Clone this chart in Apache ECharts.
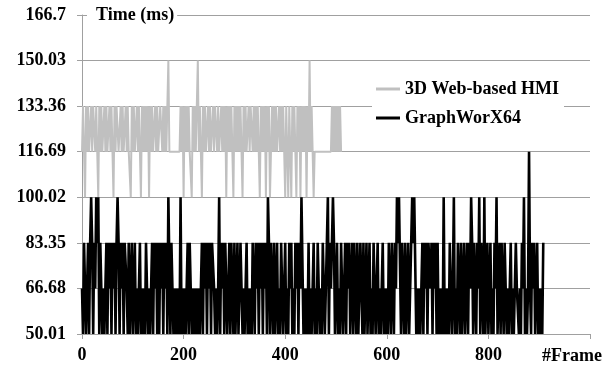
<!DOCTYPE html>
<html>
<head>
<meta charset="utf-8">
<script src="https://cdn.jsdelivr.net/npm/echarts@6/dist/echarts.min.js"></script>
<style>html,body{margin:0;padding:0;background:#fff}#c{width:616px;height:370px}</style>
</head>
<body>
<div id="c"></div>
<script>
// ---- data ----
const seriesNames = ['3D Web-based HMI', 'GraphWorX64'];
const frameStep = 2; // one value every 2 frames
const yTickLabels = ['50.01', '66.68', '83.35', '100.02', '116.69', '133.36', '150.03', '166.7'];
const xTickLabels = ['0', '200', '400', '600', '800', ''];
const xAxisTitle = '#Frame';
const yAxisTitle = 'Time (ms)';

const webHmi = [
116.69,133.36,116.69,100.02,133.36,116.69,133.36,116.69,116.69,133.36,
116.69,133.36,133.36,116.69,133.36,116.69,100.02,133.36,116.69,133.36,
116.69,116.69,133.36,116.69,133.36,116.69,116.69,133.36,116.69,133.36,
116.69,100.02,133.36,116.69,133.36,133.36,116.69,116.69,133.36,116.69,
133.36,116.69,116.69,133.36,116.69,133.36,116.69,116.69,100.02,133.36,
116.69,133.36,116.69,116.69,133.36,116.69,133.36,116.69,100.02,133.36,
116.69,133.36,116.69,133.36,116.69,133.36,100.02,133.36,116.69,133.36,
116.69,116.69,133.36,116.69,133.36,116.69,116.69,133.36,133.36,116.69,
133.36,116.69,133.36,116.69,133.36,150.03,116.69,116.69,116.69,116.69,
116.69,116.69,116.69,116.69,116.69,116.69,116.69,133.36,116.69,133.36,
100.02,133.36,116.69,133.36,116.69,133.36,116.69,116.69,100.02,133.36,
116.69,133.36,116.69,133.36,150.03,116.69,133.36,116.69,100.02,133.36,
116.69,133.36,116.69,116.69,133.36,116.69,133.36,116.69,116.69,133.36,
116.69,133.36,133.36,116.69,133.36,116.69,116.69,133.36,116.69,133.36,
116.69,133.36,100.02,133.36,116.69,133.36,116.69,133.36,116.69,100.02,
133.36,116.69,133.36,116.69,133.36,116.69,133.36,116.69,100.02,133.36,
116.69,133.36,116.69,116.69,133.36,116.69,133.36,133.36,116.69,133.36,
116.69,133.36,116.69,133.36,116.69,100.02,133.36,116.69,133.36,116.69,
133.36,100.02,133.36,116.69,133.36,100.02,116.69,133.36,116.69,133.36,
116.69,133.36,116.69,116.69,133.36,116.69,133.36,116.69,133.36,116.69,
100.02,133.36,116.69,100.02,133.36,116.69,100.02,133.36,116.69,133.36,
116.69,100.02,133.36,116.69,133.36,100.02,133.36,116.69,133.36,116.69,
133.36,100.02,133.36,116.69,150.03,116.69,133.36,116.69,100.02,116.69,
116.69,116.69,116.69,116.69,116.69,116.69,116.69,116.69,116.69,116.69,
116.69,116.69,116.69,116.69,116.69,116.69,133.36,116.69,133.36,116.69,
133.36,116.69,133.36,116.69,133.36,116.69
];

const graphWorx = [
66.68,50.01,83.35,66.68,50.01,66.68,83.35,50.01,83.35,100.02,
83.35,50.01,83.35,66.68,100.02,83.35,100.02,50.01,83.35,66.68,
50.01,66.68,50.01,66.68,83.35,50.01,83.35,66.68,83.35,50.01,
83.35,66.68,83.35,50.01,83.35,100.02,83.35,50.01,83.35,66.68,
83.35,50.01,83.35,83.35,66.68,50.01,83.35,50.01,66.68,83.35,
50.01,66.68,83.35,50.01,66.68,50.01,66.68,83.35,50.01,66.68,
50.01,66.68,50.01,83.35,66.68,50.01,66.68,50.01,66.68,83.35,
50.01,83.35,66.68,83.35,50.01,83.35,50.01,83.35,66.68,83.35,
50.01,83.35,66.68,83.35,50.01,100.02,100.02,50.01,83.35,66.68,
50.01,66.68,50.01,66.68,50.01,66.68,50.01,100.02,50.01,66.68,
50.01,66.68,50.01,66.68,83.35,50.01,83.35,66.68,50.01,66.68,
50.01,66.68,50.01,66.68,50.01,66.68,50.01,66.68,83.35,50.01,
83.35,66.68,83.35,50.01,83.35,66.68,83.35,50.01,83.35,83.35,
66.68,50.01,66.68,50.01,66.68,100.02,50.01,83.35,66.68,83.35,
50.01,83.35,66.68,50.01,66.68,83.35,50.01,83.35,66.68,50.01,
83.35,50.01,66.68,83.35,50.01,66.68,83.35,66.68,50.01,66.68,
50.01,66.68,83.35,50.01,66.68,50.01,66.68,50.01,83.35,66.68,
50.01,83.35,66.68,83.35,50.01,83.35,66.68,83.35,50.01,83.35,
66.68,83.35,50.01,100.02,83.35,50.01,83.35,66.68,50.01,83.35,
50.01,66.68,83.35,50.01,66.68,50.01,83.35,66.68,50.01,66.68,
83.35,50.01,66.68,50.01,83.35,66.68,83.35,50.01,66.68,50.01,
83.35,66.68,83.35,50.01,83.35,66.68,100.02,100.02,50.01,66.68,
50.01,66.68,50.01,83.35,50.01,66.68,50.01,66.68,83.35,50.01,
66.68,50.01,83.35,66.68,50.01,66.68,50.01,83.35,66.68,50.01,
66.68,83.35,100.02,50.01,83.35,66.68,83.35,100.02,83.35,50.01,
66.68,83.35,50.01,66.68,50.01,83.35,66.68,50.01,66.68,83.35,
50.01,83.35,66.68,83.35,50.01,66.68,83.35,50.01,83.35,66.68,
50.01,83.35,50.01,66.68,83.35,66.68,50.01,83.35,50.01,66.68,
83.35,50.01,66.68,83.35,50.01,66.68,50.01,83.35,66.68,50.01,
66.68,83.35,50.01,66.68,50.01,66.68,83.35,50.01,66.68,50.01,
66.68,50.01,83.35,66.68,50.01,83.35,66.68,50.01,83.35,66.68,
100.02,83.35,100.02,100.02,50.01,83.35,66.68,50.01,83.35,50.01,
66.68,83.35,50.01,66.68,83.35,100.02,83.35,100.02,100.02,50.01,
66.68,50.01,66.68,50.01,66.68,83.35,50.01,83.35,66.68,83.35,
50.01,83.35,83.35,66.68,83.35,50.01,83.35,66.68,83.35,50.01,
83.35,50.01,66.68,50.01,66.68,50.01,100.02,50.01,66.68,50.01,
66.68,50.01,83.35,66.68,50.01,66.68,100.02,50.01,66.68,50.01,
83.35,66.68,50.01,83.35,50.01,66.68,83.35,50.01,66.68,83.35,
50.01,83.35,66.68,100.02,83.35,50.01,83.35,66.68,50.01,83.35,
66.68,100.02,50.01,83.35,66.68,50.01,100.02,50.01,66.68,83.35,
50.01,66.68,83.35,50.01,66.68,50.01,83.35,66.68,100.02,50.01,
66.68,83.35,50.01,83.35,66.68,50.01,83.35,66.68,50.01,66.68,
50.01,66.68,83.35,50.01,66.68,50.01,66.68,83.35,66.68,66.68,
50.01,66.68,50.01,83.35,66.68,100.02,50.01,66.68,50.01,66.68,
116.69,66.68,50.01,83.35,66.68,83.35,50.01,66.68,83.35,50.01,
66.68,50.01,66.68,50.01,83.35
];

// ---- chart ----
const yMin = 50.01, yMax = 166.7, yStep = 16.67;
const font = 'Liberation Serif, Times New Roman, serif';
const toPairs = arr => arr.map((v, i) => [i * frameStep, v]);

const chart = echarts.init(document.getElementById('c'), null, {renderer: 'canvas'});
chart.setOption({
  animation: false,
  backgroundColor: '#fff',
  title: {
    text: yAxisTitle,
    left: 87, top: 5,
    padding: [1, 3, 1, 9],
    backgroundColor: '#fff',
    textStyle: {fontFamily: font, fontWeight: 'bold', fontSize: 18, color: '#000'}
  },
  legend: {
    orient: 'vertical',
    left: 372, top: 75,
    padding: [5, 5, 5, 4],
    itemGap: 11,
    itemWidth: 24, itemHeight: 3,
    icon: 'rect',
    backgroundColor: '#fff',
    data: seriesNames,
    textStyle: {fontFamily: font, fontWeight: 'bold', fontSize: 18, color: '#000'}
  },
  grid: {left: 82, right: 26, top: 15, bottom: 36},
  xAxis: {
    type: 'value', min: 0, max: 1000, interval: 200,
    name: xAxisTitle, nameLocation: 'end', nameGap: -48,
    nameTextStyle: {fontFamily: font, fontWeight: 'bold', fontSize: 18, color: '#000',
                    verticalAlign: 'top', padding: [13, 0, 0, 0]},
    axisLine: {lineStyle: {color: '#a0a0a0', width: 1}},
    axisTick: {show: true, inside: false, length: 5, lineStyle: {color: '#a0a0a0'}},
    splitLine: {show: false},
    axisLabel: {
      margin: 12, fontFamily: font, fontWeight: 'bold', fontSize: 18, color: '#000',
      formatter: v => xTickLabels[Math.round(v / 200)]
    }
  },
  yAxis: {
    type: 'value', min: yMin, max: yMax, interval: yStep,
    axisLine: {show: true, lineStyle: {color: '#a0a0a0', width: 1}},
    axisTick: {show: true, inside: false, length: 5, lineStyle: {color: '#a0a0a0'}},
    splitLine: {show: true, lineStyle: {color: '#a0a0a0', width: 1}},
    axisLabel: {
      margin: 16, fontFamily: font, fontWeight: 'bold', fontSize: 18, color: '#000',
      formatter: v => yTickLabels[Math.round((v - yMin) / yStep)]
    }
  },
  series: [
    {
      name: seriesNames[0], type: 'line', data: toPairs(webHmi),
      showSymbol: false, symbol: 'none', color: '#c0c0c0',
      lineStyle: {color: '#c0c0c0', width: 2, join: 'bevel'}
    },
    {
      name: seriesNames[1], type: 'line', data: toPairs(graphWorx),
      showSymbol: false, symbol: 'none', color: '#000',
      lineStyle: {color: '#000', width: 2.6, join: 'bevel'}
    }
  ]
});
</script>
</body>
</html>
